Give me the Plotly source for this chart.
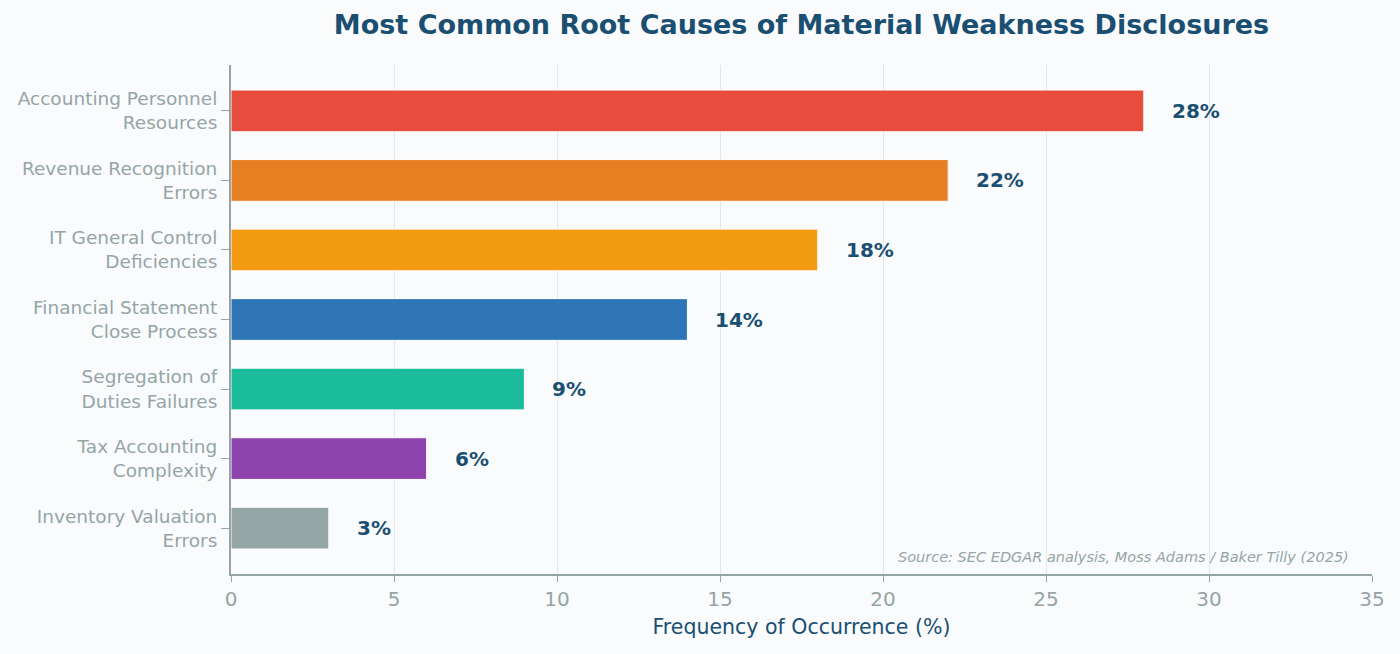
import plotly.graph_objects as go

categories = ["Inventory Valuation<br>Errors", "Tax Accounting<br>Complexity",
              "Segregation of<br>Duties Failures", "Financial Statement<br>Close Process",
              "IT General Control<br>Deficiencies", "Revenue Recognition<br>Errors",
              "Accounting Personnel<br>Resources"]
values = [3, 6, 9, 14, 18, 22, 28]
colors = ["#95a5a6", "#8e44ad", "#1abc9c", "#2e75b6", "#f39c12", "#e67e22", "#e74c3c"]
labels = [f"{v}%" for v in values]

fig = go.Figure()
fig.add_trace(go.Bar(
    x=values, y=categories, orientation="h",
    marker=dict(color=colors, line=dict(color="white", width=1)),
    hoverinfo="skip", showlegend=False,
))
for v, c, t in zip(values, categories, labels):
    fig.add_annotation(x=v, y=c, text=f"<b>{t}</b>", showarrow=False,
                       xanchor="left", xshift=26, yanchor="middle",
                       font=dict(family="DejaVu Sans", size=20, color="#1b4f72"))

fig.add_annotation(xref="paper", yref="paper", x=0.982, y=0.033,
                   text="<i>Source: SEC EDGAR analysis, Moss Adams / Baker Tilly (2025)</i>",
                   showarrow=False, xanchor="right", yanchor="middle",
                   font=dict(family="DejaVu Sans", size=14.5, color="#95a5a6"))

fig.update_layout(
    width=1400, height=654,
    margin=dict(l=231, r=28, t=65, b=80),
    paper_bgcolor="#f9fbfd", plot_bgcolor="#f9fbfd",
    bargap=0.4,
    title=dict(text="<b>Most Common Root Causes of Material Weakness Disclosures</b>",
               x=0.5, xref="paper", xanchor="center", y=0.962, yanchor="middle",
               font=dict(family="DejaVu Sans", size=27, color="#1b4f72")),
    font=dict(family="DejaVu Sans"),
)
fig.update_xaxes(range=[0, 35], dtick=5, showgrid=True, gridcolor="#e3e7e9", gridwidth=1,
                 zeroline=False, showline=True, linecolor="#95a5a6", linewidth=2,
                 ticks="outside", tickcolor="#95a5a6", ticklen=6,
                 tickfont=dict(size=20, color="#95a5a6"),
                 title=dict(text="Frequency of Occurrence (%)", standoff=10,
                            font=dict(size=20.5, color="#1b4f72")))
fig.update_yaxes(range=[-0.66, 6.66], showgrid=False, zeroline=False,
                 showline=True, linecolor="#95a5a6", linewidth=2,
                 ticks="outside", tickcolor="#95a5a6", ticklen=8,
                 tickfont=dict(size=18.5, color="#95a5a6"))

fig.write_html("out.html")
